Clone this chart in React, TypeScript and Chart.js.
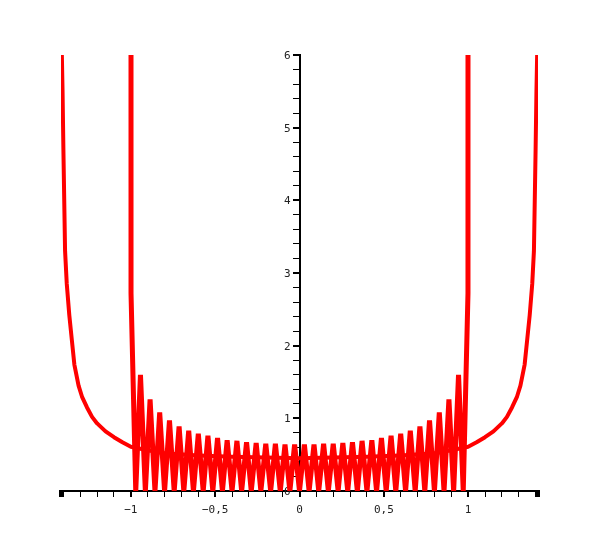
import React, { useEffect, useRef } from 'react';
import { Chart, registerables } from 'chart.js';

Chart.register(...registerables);

// Smooth U-shaped curve
const curveAX = [
  -1.414, -1.41, -1.405, -1.4, -1.39, -1.38, -1.365, -1.35, -1.335, -1.31, -1.29, -1.26, -1.23,
  -1.2, -1.15, -1.1, -1.05, -1.0, -0.9, -0.8, -0.6, -0.4, -0.2, 0,
  0.2, 0.4, 0.6, 0.8, 0.9, 1.0, 1.05, 1.1, 1.15, 1.2, 1.23, 1.26, 1.29, 1.31, 1.335, 1.35,
  1.365, 1.38, 1.39, 1.4, 1.405, 1.41, 1.414,
];
const curveAY = [
  8, 6.1, 5.5, 4.7, 3.3, 2.85, 2.42, 2.08, 1.74, 1.45, 1.3, 1.15, 1.02,
  0.93, 0.82, 0.74, 0.67, 0.61, 0.56, 0.52, 0.49, 0.47, 0.46, 0.45,
  0.46, 0.47, 0.49, 0.52, 0.56, 0.61, 0.67, 0.74, 0.82, 0.93, 1.02, 1.15, 1.3, 1.45, 1.74, 2.08,
  2.42, 2.85, 3.3, 4.7, 5.5, 6.1, 8,
];

// Oscillating curve on [-1, 1] (sample points)
const curveBX = [
  -1.0, -0.999, -0.971, -0.943, -0.914, -0.886, -0.857, -0.829, -0.8, -0.771, -0.743, -0.714,
  -0.686, -0.657, -0.629, -0.6, -0.571, -0.543, -0.514, -0.486, -0.457, -0.429, -0.4, -0.371,
  -0.343, -0.314, -0.286, -0.257, -0.229, -0.2, -0.171, -0.143, -0.114, -0.086, -0.057, -0.029,
  0,
  0.029, 0.057, 0.086, 0.114, 0.143, 0.171, 0.2, 0.229, 0.257, 0.286, 0.314, 0.343, 0.371, 0.4,
  0.429, 0.457, 0.486, 0.514, 0.543, 0.571, 0.6, 0.629, 0.657, 0.686, 0.714, 0.743, 0.771, 0.8,
  0.829, 0.857, 0.886, 0.914, 0.943, 0.971, 0.999, 1.0,
];
const curveBY = [
  40, 2.72, 0, 1.6, 0, 1.26, 0, 1.08, 0, 0.97, 0, 0.89,
  0, 0.83, 0, 0.79, 0, 0.76, 0, 0.73, 0, 0.7, 0, 0.69,
  0, 0.67, 0, 0.66, 0, 0.65, 0, 0.65, 0, 0.64, 0, 0.64,
  0,
  0.64, 0, 0.64, 0, 0.65, 0, 0.65, 0, 0.66, 0, 0.67, 0, 0.69, 0,
  0.7, 0, 0.73, 0, 0.76, 0, 0.79, 0, 0.83, 0, 0.89, 0, 0.97, 0,
  1.08, 0, 1.26, 0, 1.6, 0, 2.72, 40,
];

// Axes
const X_MIN = -1.4142;
const X_MAX = 1.4142;
const Y_MIN = 0;
const Y_MAX = 6;
const xTickValues = [
  -1.4, -1.3, -1.2, -1.1, -1.0, -0.9, -0.8, -0.7, -0.6, -0.5, -0.4, -0.3, -0.2, -0.1, 0,
  0.1, 0.2, 0.3, 0.4, 0.5, 0.6, 0.7, 0.8, 0.9, 1.0, 1.1, 1.2, 1.3, 1.4,
];
const yTickValues = [
  0, 0.2, 0.4, 0.6, 0.8, 1, 1.2, 1.4, 1.6, 1.8, 2, 2.2, 2.4, 2.6, 2.8, 3, 3.2, 3.4, 3.6, 3.8,
  4, 4.2, 4.4, 4.6, 4.8, 5, 5.2, 5.4, 5.6, 5.8, 6,
];
const xLabelValues = [-1, -0.5, 0, 0.5, 1];
const xLabelTexts = ['\u22121', '\u22120,5', '0', '0,5', '1'];
const yLabelValues = [0, 1, 2, 3, 4, 5, 6];
const yLabelTexts = ['0', '1', '2', '3', '4', '5', '6'];

const findLabel = (vals: number[], texts: string[], v: number) => {
  for (let i = 0; i < vals.length; i++) if (Math.abs(vals[i] - v) < 1e-6) return texts[i];
  return '';
};
const isMajor = (vals: number[], v: number) => vals.some((m) => Math.abs(m - v) < 1e-6);

const RED = '#ff0000';
const FONT = { family: '"DejaVu Sans Mono", monospace', size: 11 };

// shift the y labels of the centred axis left of its tick marks
const yLabelOffset = {
  id: 'yLabelOffset',
  beforeDraw(chart: any) {
    const s = chart.scales.y;
    const items = s.getLabelItems(chart.chartArea);
    items.forEach((it: any) => {
      if (!it.__shifted) {
        it.options.translation[0] -= 9;
        it.options.translation[1] += 1;
        it.__shifted = true;
      }
    });
  },
};

const axisEnds = {
  id: 'axisEnds',
  afterDraw(chart: any) {
    const xs = chart.scales.x;
    const ctx = chart.ctx;
    const y = xs.top;
    ctx.save();
    ctx.fillStyle = '#000';
    ctx.fillRect(xs.left - 2, y - 1, 5, 7);
    ctx.fillRect(xs.right - 3, y - 1, 5, 7);
    ctx.restore();
  },
};

export default function App() {
  const ref = useRef<HTMLCanvasElement | null>(null);

  useEffect(() => {
    if (!ref.current) return;
    const chart = new Chart(ref.current, {
      type: 'scatter',
      data: {
        datasets: [
          {
            data: curveAX.map((x, i) => ({ x, y: curveAY[i] })),
            showLine: true,
            borderColor: RED,
            backgroundColor: RED,
            borderWidth: 4,
            pointRadius: 0,
            borderJoinStyle: 'round',
            clip: 0,
          } as any,
          {
            data: curveBX.map((x, i) => ({ x, y: curveBY[i] })),
            showLine: true,
            borderColor: RED,
            backgroundColor: RED,
            borderWidth: 5,
            pointRadius: 0,
            borderJoinStyle: 'bevel',
            clip: 0,
          } as any,
        ],
      },
      options: {
        animation: false,
        responsive: false,
        events: [],
        layout: { padding: { left: 61, right: 61, top: 55, bottom: 0 } },
        plugins: { legend: { display: false }, tooltip: { enabled: false } },
        scales: {
          x: {
            type: 'linear',
            position: 'bottom',
            min: X_MIN,
            max: X_MAX,
            z: 1,
            afterBuildTicks: (s: any) => {
              s.ticks = xTickValues.map((v) => ({ value: v }));
            },
            afterFit: (s: any) => {
              s.height = 54;
            },
            border: { display: true, color: '#000', width: 2 },
            grid: {
              drawOnChartArea: false,
              drawTicks: true,
              tickLength: 6,
              color: '#000',
              lineWidth: (c: any) => (c.tick && isMajor(xLabelValues, c.tick.value) ? 2 : 1),
            },
            ticks: {
              autoSkip: false,
              maxRotation: 0,
              padding: 7,
              color: '#222',
              font: FONT,
              callback: (v: any) => findLabel(xLabelValues, xLabelTexts, Number(v)),
            },
          },
          y: {
            type: 'linear',
            position: { x: 0 } as any,
            min: Y_MIN,
            max: Y_MAX,
            z: 1,
            afterBuildTicks: (s: any) => {
              s.ticks = yTickValues.map((v) => ({ value: v }));
            },
            border: { display: true, color: '#000', width: 2 },
            grid: {
              drawOnChartArea: false,
              drawTicks: true,
              tickLength: 6,
              color: '#000',
              lineWidth: (c: any) => (c.tick && isMajor(yLabelValues, c.tick.value) ? 2 : 1),
            },
            ticks: {
              autoSkip: false,
              padding: 3,
              color: '#222',
              font: FONT,
              callback: (v: any) => findLabel(yLabelValues, yLabelTexts, Number(v)),
            },
          },
        },
      } as any,
      plugins: [yLabelOffset, axisEnds],
    });
    return () => chart.destroy();
  }, []);

  return (
    <div style={{ position: 'fixed', left: 0, top: 0, width: 599, height: 545, background: '#fff' }}>
      <canvas ref={ref} width={599} height={545} style={{ width: 599, height: 545, display: 'block' }} />
    </div>
  );
}
